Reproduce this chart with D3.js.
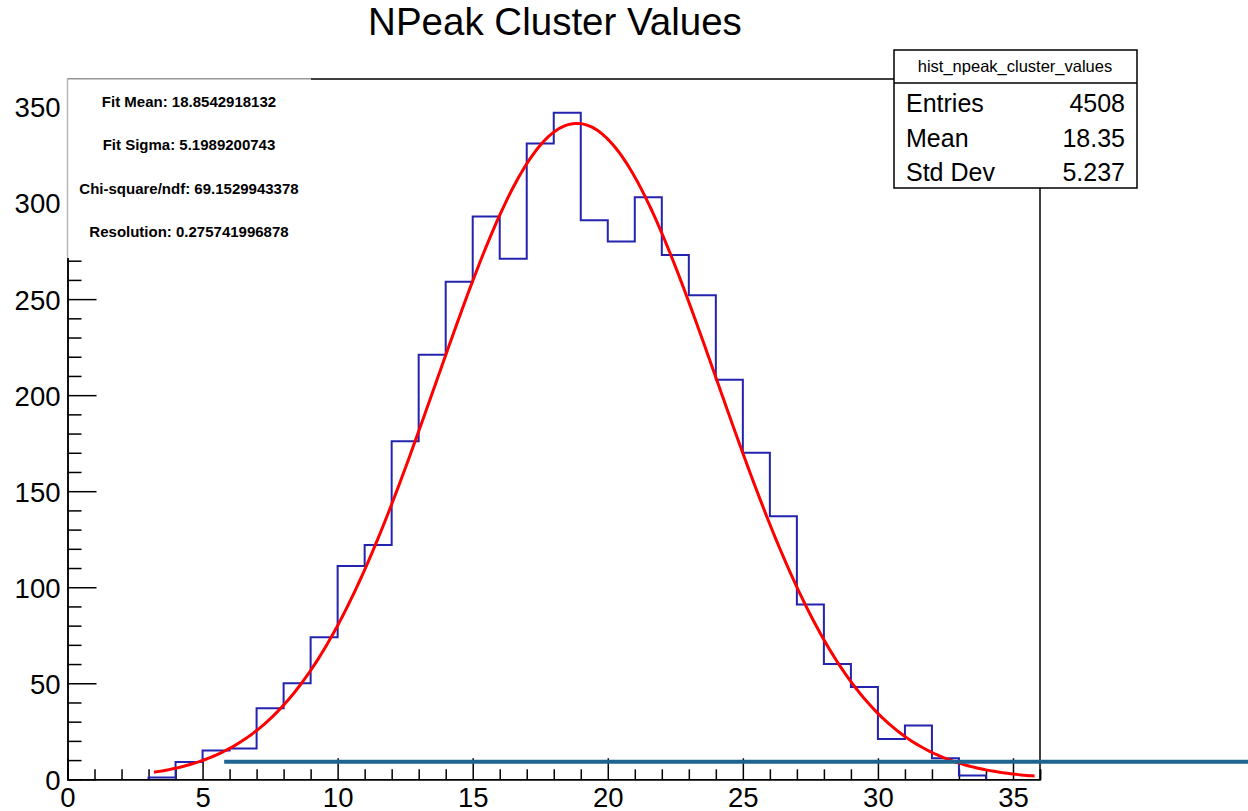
<!DOCTYPE html>
<html>
<head>
<meta charset="utf-8">
<script src="https://cdn.jsdelivr.net/npm/d3@7"></script>
<style>
  body { margin: 0; background: #fff; }
  svg { display: block; font-family: "Liberation Sans", Arial, Helvetica, sans-serif; }
</style>
</head>
<body>
<div id="chart"></div>
<script>
// bin low edges (width 1) and counts of the npeak histogram
var binEdges = [3, 4, 5, 6, 7, 8, 9, 10, 11, 12, 13, 14, 15, 16, 17, 18, 19, 20, 21, 22, 23, 24, 25, 26, 27, 28, 29, 30, 31, 32, 33];
var binCounts = [1, 9, 15, 16, 37, 50, 74, 111, 122, 176, 221, 259, 293, 271, 331, 347, 291, 280, 303, 273, 252, 208, 170, 137, 91, 60, 48, 21, 28, 11, 2];

// gaussian fit parameters
var fitMean = 18.8542918132;
var fitSigma = 5.1989200743;
var fitAmp = 341.5;
var fitRange = [3.2, 35.8];

var fitLines = [
  "Fit Mean: 18.8542918132",
  "Fit Sigma: 5.1989200743",
  "Chi-square/ndf: 69.1529943378",
  "Resolution: 0.275741996878"
];

var statsName = "hist_npeak_cluster_values";
var statsLabels = ["Entries", "Mean", "Std Dev"];
var statsValues = ["4508", "18.35", "5.237"];

// horizontal marker line (start x, level)
var markerStart = 5.8;
var markerLevel = 9.2;

var xMajor = [0, 5, 10, 15, 20, 25, 30, 35];
var yMajor = [0, 50, 100, 150, 200, 250, 300, 350];

var svgWidth = 1248;
var svgHeight = 811;

var frame = { left: 67.5, right: 1040, top: 79, bottom: 779.3 };

var svg = d3.select("#chart")
  .append("svg")
  .attr("width", svgWidth)
  .attr("height", svgHeight);

svg.append("rect")
  .attr("width", svgWidth)
  .attr("height", svgHeight)
  .attr("fill", "#fff");

var xScale = d3.scaleLinear().domain([0, 36]).range([frame.left, frame.right]);
var yScale = d3.scaleLinear().domain([0, 364.6]).range([frame.bottom, frame.top]);

// title
svg.append("text")
  .attr("x", 555)
  .attr("y", 35)
  .attr("text-anchor", "middle")
  .attr("font-size", 38.5)
  .attr("fill", "#000")
  .text("NPeak Cluster Values");

// frame top and right edges
svg.append("path")
  .attr("d", `M${frame.left},${frame.top}H${frame.right}V${frame.bottom}`)
  .attr("fill", "none")
  .attr("stroke", "#000")
  .attr("stroke-width", 1.5);

// minor ticks
var xMinor = d3.range(0, 36.01, 1).filter(v => v % 5 !== 0);
var yMinor = d3.range(0, 364, 10).filter(v => v % 50 !== 0);

var xAxisMinor = svg.append("g")
  .attr("transform", `translate(0,${frame.bottom})`)
  .call(d3.axisBottom(xScale).tickValues(xMinor).tickSize(-10).tickFormat(""));

var yAxisMinor = svg.append("g")
  .attr("transform", `translate(${frame.left},0)`)
  .call(d3.axisLeft(yScale).tickValues(yMinor).tickSize(-14).tickFormat(""));

var xAxis = svg.append("g")
  .attr("transform", `translate(0,${frame.bottom})`)
  .call(d3.axisBottom(xScale).tickValues(xMajor).tickSize(-21).tickSizeOuter(0).tickPadding(8));

var yAxis = svg.append("g")
  .attr("transform", `translate(${frame.left},0)`)
  .call(d3.axisLeft(yScale).tickValues(yMajor).tickSize(-29).tickSizeOuter(0).tickPadding(7));

[xAxis, yAxis, xAxisMinor, yAxisMinor].forEach(function(ax) {
  ax.selectAll("line").attr("stroke", "#000").attr("stroke-width", 1.5);
  ax.selectAll(".domain").attr("stroke", "#000").attr("stroke-width", 1.5);
  ax.selectAll("text")
    .attr("font-size", 27.5)
    .attr("font-family", "Liberation Sans, Arial, sans-serif")
    .attr("fill", "#000");
});
xAxis.selectAll("text").attr("dy", "0.71em");
yAxis.selectAll("text").attr("dy", "0.36em");

// histogram outline
var histPath = d3.path();
histPath.moveTo(xScale(binEdges[0]), yScale(0));
binEdges.forEach(function(lo, i) {
  histPath.lineTo(xScale(lo), yScale(binCounts[i]));
  histPath.lineTo(xScale(lo + 1), yScale(binCounts[i]));
});
histPath.lineTo(xScale(binEdges[binEdges.length - 1] + 1), yScale(0));

svg.append("path")
  .attr("d", histPath.toString())
  .attr("fill", "none")
  .attr("stroke", "#2323ae")
  .attr("stroke-width", 2);

// gaussian fit curve
function gaus(x) {
  var t = (x - fitMean) / fitSigma;
  return fitAmp * Math.exp(-0.5 * t * t);
}
var fitXs = d3.range(fitRange[0], fitRange[1] + 0.001, 0.1);

svg.append("path")
  .datum(fitXs)
  .attr("d", d3.line().x(d => xScale(d)).y(d => yScale(gaus(d))))
  .attr("fill", "none")
  .attr("stroke", "#ff0000")
  .attr("stroke-width", 3);

// marker line running off to the right
svg.append("line")
  .attr("x1", xScale(markerStart))
  .attr("x2", svgWidth)
  .attr("y1", yScale(markerLevel))
  .attr("y2", yScale(markerLevel))
  .attr("stroke", "#1f6490")
  .attr("stroke-width", 4);

// fit results pave
var fitBox = svg.append("g");
fitBox.append("rect")
  .attr("x", frame.left)
  .attr("y", frame.top)
  .attr("width", 311 - frame.left)
  .attr("height", 258 - frame.top)
  .attr("fill", "#fff");
fitBox.append("path")
  .attr("d", `M${frame.left},258V${frame.top}H311`)
  .attr("fill", "none")
  .attr("stroke", "#b8b8b8")
  .attr("stroke-width", 1.5);
fitBox.selectAll("text")
  .data(fitLines)
  .enter()
  .append("text")
  .attr("x", 189)
  .attr("y", (d, i) => 107 + i * 43.4)
  .attr("text-anchor", "middle")
  .attr("font-size", 15)
  .attr("font-weight", "bold")
  .attr("fill", "#000")
  .text(d => d);

// stats box
var stats = svg.append("g");
stats.append("rect")
  .attr("x", 894)
  .attr("y", 50)
  .attr("width", 1137 - 894)
  .attr("height", 188 - 50)
  .attr("fill", "#fff")
  .attr("stroke", "#000")
  .attr("stroke-width", 1.5);
stats.append("line")
  .attr("x1", 894)
  .attr("x2", 1137)
  .attr("y1", 83)
  .attr("y2", 83)
  .attr("stroke", "#000")
  .attr("stroke-width", 1.5);
stats.append("text")
  .attr("x", 1015)
  .attr("y", 72)
  .attr("text-anchor", "middle")
  .attr("font-size", 16.5)
  .attr("fill", "#000")
  .text(statsName);
statsLabels.forEach(function(lab, i) {
  var y = 112 + i * 34.5;
  stats.append("text")
    .attr("x", 906)
    .attr("y", y)
    .attr("font-size", 25)
    .attr("fill", "#000")
    .text(lab);
  stats.append("text")
    .attr("x", 1125)
    .attr("y", y)
    .attr("text-anchor", "end")
    .attr("font-size", 25)
    .attr("fill", "#000")
    .text(statsValues[i]);
});
</script>
</body>
</html>
